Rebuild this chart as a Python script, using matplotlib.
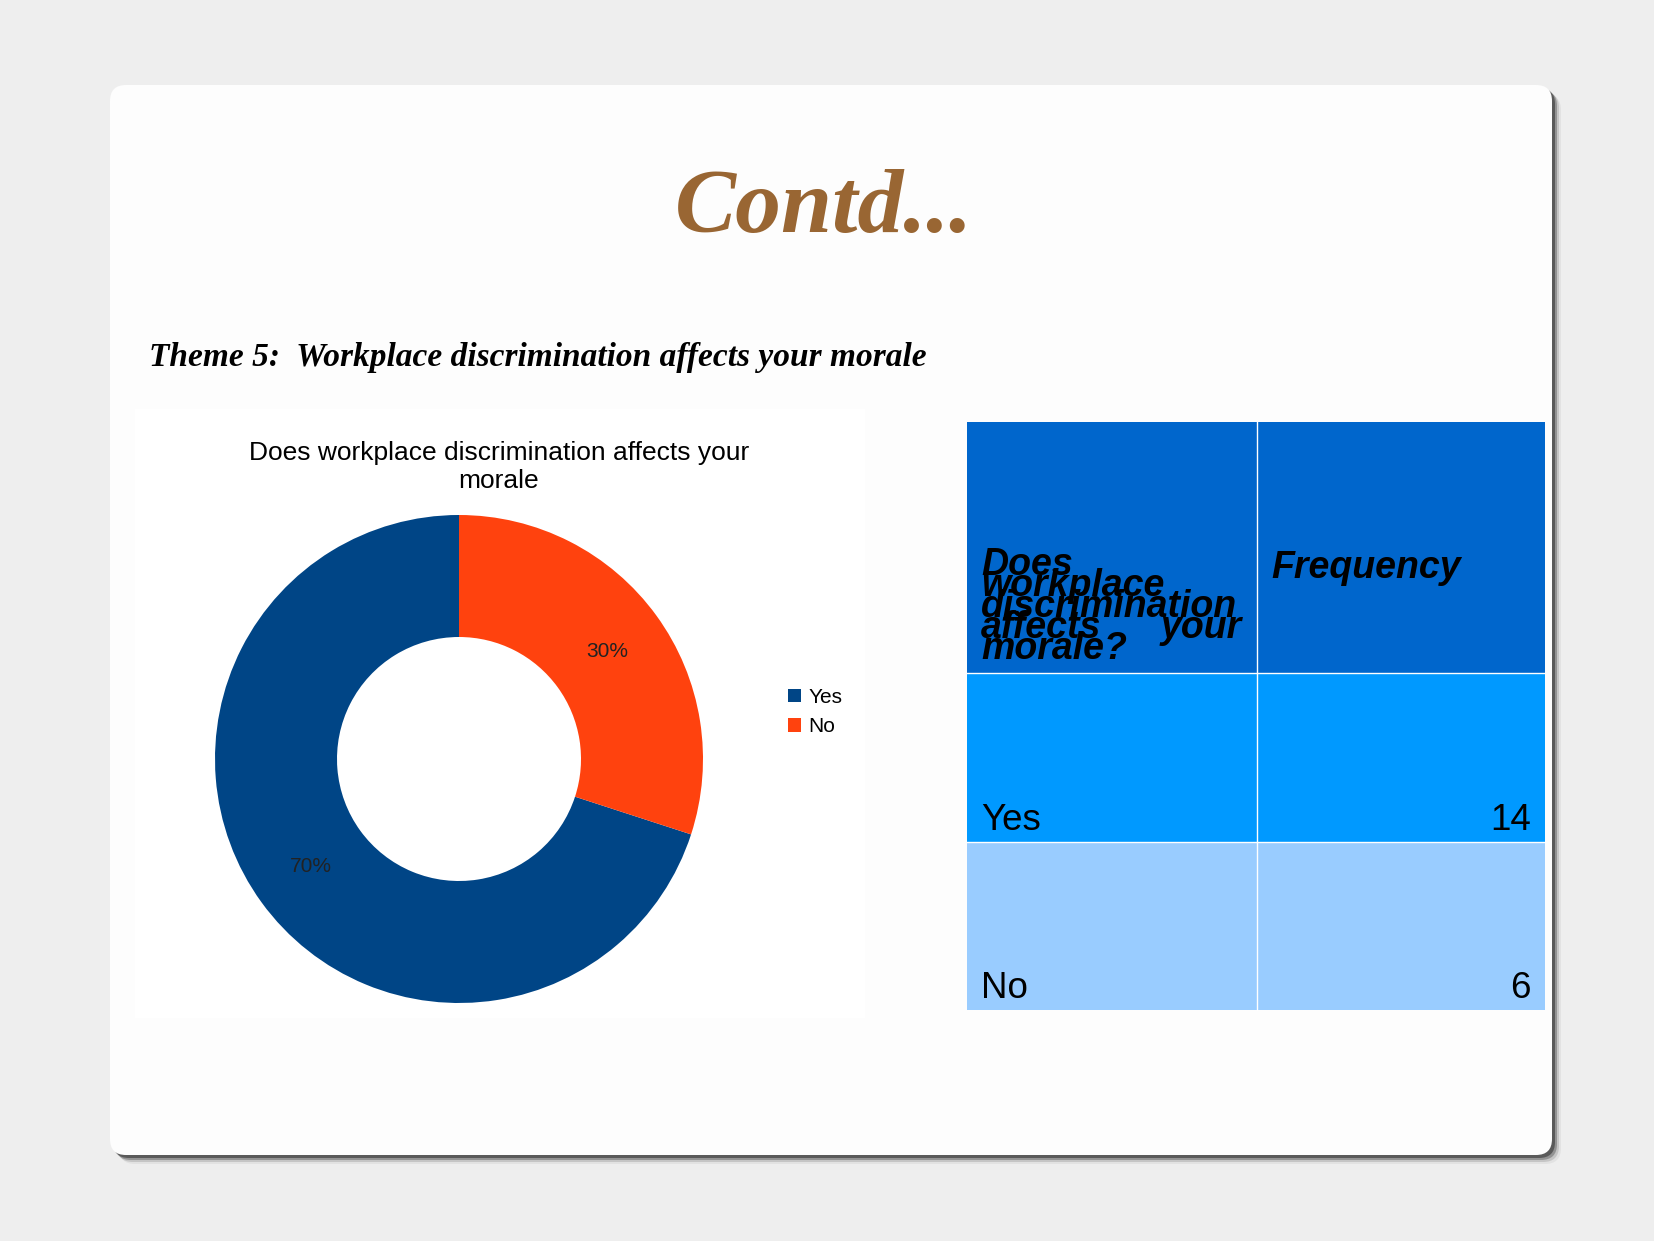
import matplotlib
matplotlib.use("Agg")
import matplotlib.pyplot as plt
from matplotlib.patches import FancyBboxPatch, Rectangle

## slide size in pixels (dpi 100)
W, H = 1654, 1241

## data
categories = ["Yes", "No"]
counts = [14, 6]
slice_colors = ["#004586", "#ff420e"]
chart_title = "Does workplace discrimination affects your\nmorale"
slide_title = "Contd..."
theme_text = "Theme 5:  Workplace discrimination affects your morale"
header_cols = ["Does workplace discrimination affects your morale?", "Frequency"]
row_colors = ["#0099ff", "#99ccff"]
header_color = "#0066cc"

plt.rcParams['font.family'] = ['Liberation Sans', 'DejaVu Sans']

fig = plt.figure(figsize=(W / 100, H / 100), dpi=100)
fig.patch.set_facecolor("#eeeeee")

## background axes in pixel coordinates (y down)
bg = fig.add_axes([0, 0, 1, 1])
bg.set_xlim(0, W)
bg.set_ylim(H, 0)
bg.axis("off")

## panel shadow + panel
px0, py0, px1, py1 = 110, 85, 1552, 1155
for off, a in [(9, 0.06), (7, 0.15), (5, 0.3), (3, 0.5)]:
    bg.add_patch(FancyBboxPatch((px0 + off, py0 + off), px1 - px0, py1 - py0,
                                boxstyle="round,pad=0,rounding_size=16",
                                fc="#222222", ec="none", alpha=a))
bg.add_patch(FancyBboxPatch((px0, py0), px1 - px0, py1 - py0,
                            boxstyle="round,pad=0,rounding_size=16",
                            fc="#fdfdfd", ec="none"))

## chart area
bg.add_patch(Rectangle((135, 409), 730, 609, fc="white", ec="none"))

## titles
bg.text(824, 232, slide_title, fontsize=66, fontweight="bold", fontstyle="italic",
        family="Liberation Serif", color="#996633", ha="center", va="baseline")
bg.text(149, 366, theme_text, fontsize=24, fontweight="bold", fontstyle="italic",
        family="Liberation Serif", color="black", ha="left", va="baseline")
bg.text(499, 488, chart_title, fontsize=19, color="black", ha="center", va="baseline",
        linespacing=1.2, multialignment="center")

## donut
cx, cy, r = 459, 759, 244
ax = fig.add_axes([(cx - r) / W, (H - cy - r) / H, 2 * r / W, 2 * r / H])
wedges, _, autotexts = ax.pie(counts, colors=slice_colors, startangle=90, counterclock=True,
                              wedgeprops=dict(width=0.5, linewidth=0),
                              autopct="%1.0f%%", pctdistance=0.75,
                              textprops=dict(fontsize=15, color="#222222"))
ax.set_xlim(-1, 1)
ax.set_ylim(-1, 1)
ax.legend(wedges, categories, loc="upper left", bbox_to_anchor=(788 / W, 1 - 688 / H),
          bbox_transform=fig.transFigure, frameon=False, fontsize=15,
          handlelength=0.62, handleheight=0.62, handletextpad=0.35,
          labelspacing=0.5, borderpad=0, borderaxespad=0)

## table
tx = [967, 1257, 1545]
ty = [422, 673, 842, 1010]
bg.add_patch(Rectangle((tx[0], ty[0]), tx[2] - tx[0], ty[1] - ty[0], fc=header_color, ec="none"))
for i, c in enumerate(row_colors):
    bg.add_patch(Rectangle((tx[0], ty[i + 1]), tx[2] - tx[0], ty[i + 2] - ty[i + 1], fc=c, ec="none"))
for x in tx[1:2]:
    bg.plot([x, x], [ty[0], ty[-1]], color="white", lw=1)
for y in ty[1:-1]:
    bg.plot([tx[0], tx[2]], [y, y], color="white", lw=1)

## header text (justified, tight lines)
words = header_cols[0].split()
hlines = [[words[0]], [words[1]], [words[2]], [words[3], words[4]], [words[5]]]
hfont = dict(fontsize=27, fontweight="bold", fontstyle="italic", color="black", va="baseline")
for k, ln in enumerate(hlines):
    yb = 575 + 21 * k
    bg.text(981, yb, ln[0], ha="left", **hfont)
    if len(ln) > 1:
        bg.text(1242, yb, ln[1], ha="right", **hfont)
bg.text(1271, 578, header_cols[1], ha="left", **hfont)

for i, (cat, n) in enumerate(zip(categories, counts)):
    yb = ty[i + 2] - 12
    bg.text(981, yb, cat, fontsize=26.5, color="black", ha="left", va="baseline")
    bg.text(1531, yb, str(n), fontsize=26.5, color="black", ha="right", va="baseline")

fig.savefig("out.png", dpi=100, facecolor=fig.get_facecolor())
